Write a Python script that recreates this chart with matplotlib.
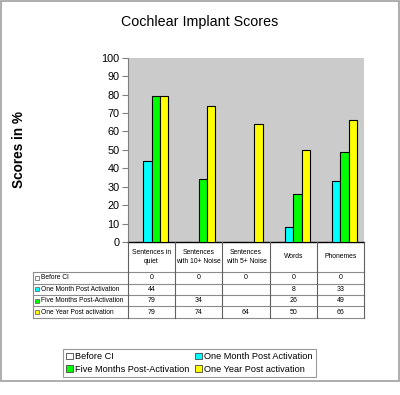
import numpy as np
import matplotlib
matplotlib.use("Agg")
import matplotlib.pyplot as plt
from matplotlib.patches import Patch, Rectangle

plt.rcParams['font.family'] = ['Liberation Sans', 'DejaVu Sans']

categories = ["Sentences in\nquiet", "Sentences\nwith 10+ Noise", "Sentences\nwith 5+ Noise", "Words", "Phonemes"]
series_names = ["Before CI", "One Month Post Activation", "Five Months Post-Activation", "One Year Post activation"]
legend_names = ["Before CI", "One Month Post Activation", "Five Months Post-Activation", "One Year Post activation"]
before_ci = [0, 0, 0, 0, 0]
one_month = [44, None, None, 8, 33]
five_months = [79, 34, None, 26, 49]
one_year = [79, 74, 64, 50, 66]
series = [before_ci, one_month, five_months, one_year]
colors = ["#FFFFFF", "#00FFFF", "#00FF00", "#FFFF00"]
yticks = list(range(0, 101, 10))

W, H = 400, 395
fig = plt.figure(figsize=(4.0, 3.95), dpi=100)

# outer border
fig.patches.append(Rectangle((0.5 / W, 1 - 381 / H), 398.5 / W, 380.5 / H, transform=fig.transFigure,
                             fill=False, edgecolor="#A0A0A0", linewidth=1.2))

x0, x1, ytop, ybot = 128, 364, 57.7, 242
ax = fig.add_axes([x0 / W, 1 - ybot / H, (x1 - x0) / W, (ybot - ytop) / H])
ax.set_facecolor("#CBCBCB")
n = len(categories)
bw = 0.176
for i, (vals, c) in enumerate(zip(series, colors)):
    xs = [k + (i - 1.5) * bw for k in range(n) if vals[k] is not None]
    hs = [vals[k] for k in range(n) if vals[k] is not None]
    ax.bar(xs, hs, width=bw, color=c, edgecolor="black", linewidth=0.8, zorder=3)
ax.set_xlim(-0.5, n - 0.5)
ax.set_ylim(0, 100)
ax.set_yticks(yticks)
ax.set_yticklabels([str(t) for t in yticks], fontsize=7.8)
ax.set_xticks([])
ax.tick_params(axis='y', length=4, color="#808080", pad=2)
for s in ["top", "right"]:
    ax.spines[s].set_visible(False)
ax.spines["left"].set_color("#808080")
ax.spines["bottom"].set_color("black")
ax.spines["left"].set_linewidth(0.8)
ax.spines["bottom"].set_linewidth(1.0)

fig.text(200 / W, 1 - 22 / H, "Cochlear Implant Scores", ha="center", va="center", fontsize=10.3)
fig.text(19 / W, 1 - 149 / H, "Scores in %", ha="center", va="center", rotation=90,
         fontsize=9.8, fontweight="bold")

# table overlay in pixel coordinates
tax = fig.add_axes([0, 0, 1, 1], facecolor="none")
tax.set_xlim(0, W)
tax.set_ylim(H, 0)
tax.axis("off")
col_w = (x1 - x0) / n
col_edges = [x0 + k * col_w for k in range(n + 1)]
row_y = [272, 283.5, 295, 306.3, 317.7]
lc = "#8C8C8C"
for y in row_y:
    tax.plot([33, x1], [y, y], color=lc, lw=0.8)
tax.plot([33, 33], [row_y[0], row_y[-1]], color=lc, lw=0.8)
for xe in col_edges:
    tax.plot([xe, xe], [ybot, row_y[-1]], color="#606060", lw=0.8)
for k, lab in enumerate(categories):
    tax.text((col_edges[k] + col_edges[k + 1]) / 2, 257, lab, ha="center", va="center",
             fontsize=4.9, linespacing=1.5)
for r, (name, vals, c) in enumerate(zip(series_names, series, colors)):
    yc = (row_y[r] + row_y[r + 1]) / 2
    tax.add_patch(Rectangle((35, yc - 2.0), 4.2, 4.2, facecolor=c, edgecolor="#555555", lw=0.5))
    tax.text(41, yc, name, ha="left", va="center", fontsize=4.8)
    for k in range(n):
        if vals[k] is not None:
            tax.text((col_edges[k] + col_edges[k + 1]) / 2, yc, str(vals[k]), ha="center",
                     va="center", fontsize=5.0)

handles = [Patch(facecolor=c, edgecolor="#444444", linewidth=0.6) for c in colors]
order = [0, 2, 1, 3]
leg = fig.legend([handles[i] for i in order], [legend_names[i] for i in order], ncol=2, loc="center",
                 bbox_to_anchor=(189.5 / W, 1 - 363 / H),
                 fontsize=6.6, frameon=True, fancybox=False, handlelength=0.7, handleheight=0.7,
                 handletextpad=0.3, columnspacing=0.6, labelspacing=0.35, borderpad=0.35)
leg.get_frame().set_edgecolor("#808080")
leg.get_frame().set_linewidth(0.8)

fig.savefig("out.png", dpi=100)
